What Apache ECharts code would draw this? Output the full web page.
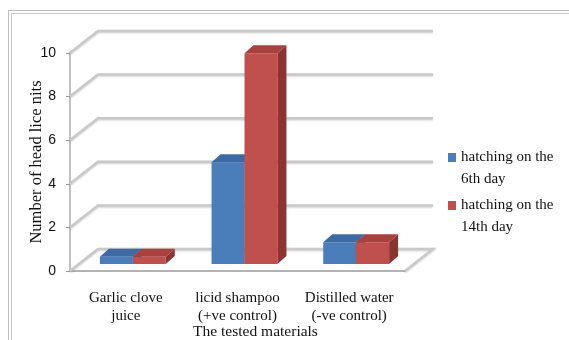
<!DOCTYPE html>
<html>
<head>
<meta charset="utf-8">
<script src="https://cdn.jsdelivr.net/npm/echarts@6/dist/echarts.min.js"></script>
<style>
html, body { margin: 0; padding: 0; background: #fff; }
#main { width: 569px; height: 340px; }
</style>
</head>
<body>
<div id="main"></div>
<script>
// data
var categories = ['Garlic clove\njuice', 'licid shampoo\n(+ve control)', 'Distilled water\n(-ve control)'];
var seriesNames = ['hatching on the 6th day', 'hatching on the 14th day'];
var day6 = [0.33, 4.67, 1];
var day14 = [0.33, 9.67, 1];
var yTicks = [0, 2, 4, 6, 8, 10];

// 3d look
var wallDx = 28, wallDy = -22;   // back wall offset
var barFx = 7, barFy = -7;       // bar front face offset
var barDx = 9, barDy = -8;       // bar depth
var colors = [
	{ front: '#4a7ebb', top: '#3d6aa3', side: '#355d91' },
	{ front: '#c0504d', top: '#a9413e', side: '#8c3432' }
];

var myChart = echarts.init(document.getElementById('main'));

function wallItem(params, api) {
	var cs = params.coordSys;
	var v = api.value(1);
	var p = api.coord([0, v]);
	var x0 = cs.x, x1 = cs.x + cs.width, y = p[1];
	var pts = [[x0, y], [x0 + wallDx, y + wallDy], [x1 + wallDx, y + wallDy]];
	if (v === 0) {
		pts.push([x1, y]);
	}
	return {
		type: 'polyline',
		shape: { points: pts },
		style: {
			stroke: '#c9c9c9',
			lineWidth: 2.5,
			fill: null,
			shadowBlur: 2,
			shadowColor: 'rgba(0,0,0,0.18)',
			shadowOffsetY: 1
		}
	};
}

function barRender(idx) {
	return function(params, api) {
		var c = colors[idx];
		var p0 = api.coord([api.value(0), 0]);
		var p1 = api.coord([api.value(0), api.value(1)]);
		var band = api.size([1, 0])[0];
		var w = band * 0.295;
		var left = p0[0] - w + idx * w + barFx;
		var top = p1[1] + barFy;
		var bottom = p0[1] + barFy;
		return {
			type: 'group',
			children: [{
				type: 'rect',
				shape: { x: left, y: top, width: w, height: bottom - top },
				style: { fill: c.front }
			}, {
				type: 'polygon',
				shape: { points: [[left, top], [left + w, top], [left + w + barDx, top + barDy], [left + barDx, top + barDy]] },
				style: { fill: c.top }
			}, {
				type: 'polygon',
				shape: { points: [[left + w, top], [left + w + barDx, top + barDy], [left + w + barDx, bottom + barDy], [left + w, bottom]] },
				style: { fill: c.side }
			}]
		};
	};
}

var serifFont = '"Liberation Serif", "Times New Roman", serif';

var option = {
	backgroundColor: '#fff',
	animation: false,
	graphic: [{
		type: 'rect',
		shape: { x: 8.5, y: 10.5, width: 620, height: 400 },
		style: { fill: null, stroke: '#bdbdbd', lineWidth: 1 }
	}, {
		type: 'rect',
		shape: { x: 11.5, y: 13.5, width: 620, height: 400 },
		style: { fill: null, stroke: '#c8c8c8', lineWidth: 1 }
	}],
	grid: {
		left: 70,
		top: 53,
		width: 335,
		height: 218,
		outerBoundsMode: 'none'
	},
	legend: {
		orient: 'vertical',
		left: 443,
		top: 141,
		itemWidth: 8,
		itemHeight: 44,
		itemGap: 4,
		data: seriesNames.map(function(n, i) {
			return {
				name: n,
				icon: 'path://M0,7H8V16H0Z M0,0 M0,44',
				itemStyle: { color: colors[i].front }
			};
		}),
		formatter: function(name) {
			return name.replace(' the ', ' the\n');
		},
		textStyle: {
			fontFamily: serifFont,
			fontSize: 15,
			lineHeight: 22,
			color: '#111'
		}
	},
	xAxis: {
		type: 'category',
		data: categories,
		name: 'The tested materials',
		nameLocation: 'middle',
		nameGap: 53,
		nameMoveOverlap: false,
		nameTextStyle: {
			fontFamily: serifFont,
			fontSize: 15.5,
			color: '#111',
			padding: [0, 0, 0, 36]
		},
		axisLine: { lineStyle: { color: '#9a9a9a', width: 1.5 } },
		axisTick: { length: 5, lineStyle: { color: '#9a9a9a' } },
		axisLabel: {
			interval: 0,
			fontFamily: serifFont,
			fontSize: 15,
			lineHeight: 18,
			color: '#111',
			margin: 18
		}
	},
	yAxis: {
		type: 'value',
		min: 0,
		max: 10,
		interval: 2,
		name: 'Number of head lice nits',
		nameLocation: 'middle',
		nameRotate: 90,
		nameGap: 25,
		nameMoveOverlap: false,
		nameTextStyle: {
			fontFamily: serifFont,
			fontSize: 16.5,
			color: '#111'
		},
		axisLine: { show: true, lineStyle: { color: '#c0c0c0', width: 2 } },
		axisTick: { show: true, length: 4, lineStyle: { color: '#9a9a9a' } },
		axisLabel: {
			fontFamily: '"Liberation Sans", Arial, sans-serif',
			fontSize: 14,
			color: '#111',
			margin: 14
		},
		splitLine: { show: false }
	},
	series: [{
		type: 'custom',
		name: 'walls',
		z: 1,
		silent: true,
		renderItem: wallItem,
		data: yTicks.map(function(v) { return [0, v]; }),
		encode: { x: 0, y: 1 }
	}, {
		type: 'custom',
		name: seriesNames[0],
		z: 2,
		itemStyle: { color: colors[0].front },
		renderItem: barRender(0),
		data: day6.map(function(v, i) { return [i, v]; }),
		encode: { x: 0, y: 1 }
	}, {
		type: 'custom',
		name: seriesNames[1],
		z: 3,
		itemStyle: { color: colors[1].front },
		renderItem: barRender(1),
		data: day14.map(function(v, i) { return [i, v]; }),
		encode: { x: 0, y: 1 }
	}]
};
myChart.setOption(option);
</script>
</body>
</html>
